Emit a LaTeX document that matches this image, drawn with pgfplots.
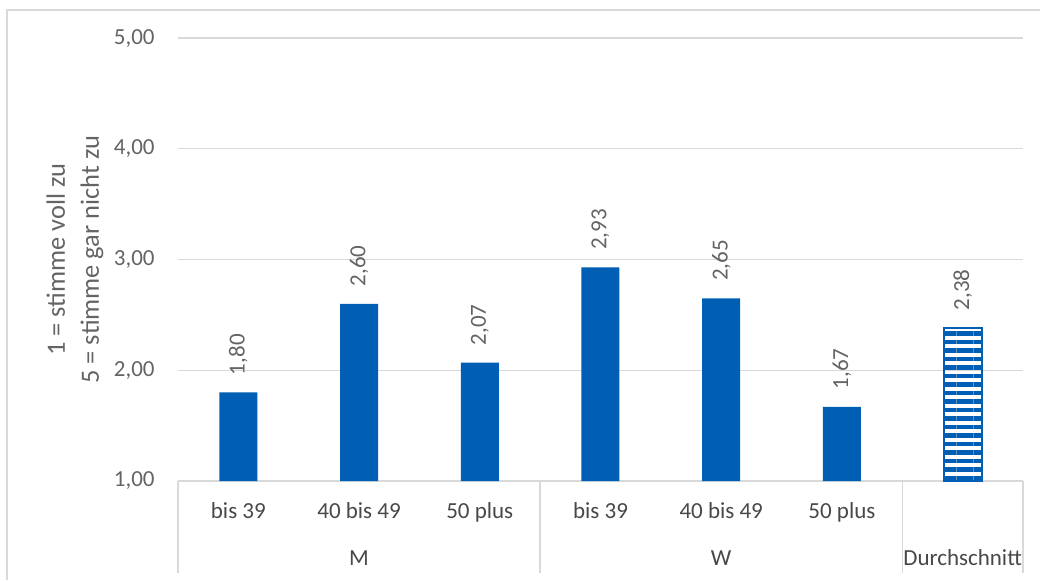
\documentclass[border=0pt]{standalone}
\usepackage{pgfplots}
\pgfplotsset{compat=1.18}
\usepackage{fontspec}
\setmainfont{Carlito}
\usetikzlibrary{patterns.meta}

\definecolor{barblue}{RGB}{0,94,180}
\definecolor{gridgray}{RGB}{217,217,217}
\definecolor{textgray}{RGB}{100,100,100}
\definecolor{catgray}{RGB}{72,72,72}

\newcommand{\lblfont}{\fontsize{11.5}{14}\selectfont}

\begin{document}
\begin{tikzpicture}
\begin{axis}[
  at={(89pt,49.5pt)}, anchor=south west,
  scale only axis, width=422.5pt, height=221.5pt,
  xmin=-0.5, xmax=6.5, ymin=1, ymax=5,
  ytick={1,2,3,4,5},
  xtick={0,1,2,3,4,5,6},
  xticklabels={bis 39, 40 bis 49, 50 plus, bis 39, 40 bis 49, 50 plus, {}},
  ymajorgrids,
  grid style={gridgray, line width=0.7pt},
  axis line style={draw=none},
  major tick length=0pt,
  clip=false,
  /pgf/number format/use comma,
  /pgf/number format/fixed,
  /pgf/number format/fixed zerofill,
  /pgf/number format/precision=2,
  /pgf/number format/assume math mode=true,
  ticklabel style={font=\lblfont},
  yticklabel style={anchor=east, inner sep=0pt, xshift=-11.5pt, text=textgray},
  xticklabel style={anchor=base, inner sep=0pt, yshift=-18.5pt, text=catgray},
  ybar, bar width=19pt, bar shift=0pt,
  nodes near coords,
  nodes near coords style={font=\lblfont, text=textgray, rotate=90,
    anchor=west, inner ysep=0pt, inner xsep=8.5pt},
]
% age groups, men and women
\addplot[fill=barblue, draw=none]
  coordinates {(0,1.80) (1,2.60) (2,2.07) (3,2.93) (4,2.65) (5,1.67)};
% overall average, striped
\addplot[draw=barblue, line width=1pt,
  pattern={Lines[angle=0, distance=4.25pt, line width=2.2pt]},
  pattern color=barblue]
  coordinates {(6,2.38)};

% group separators below the category axis
\draw[gridgray, line width=0.7pt] (axis cs:-0.5,1) -- ([yshift=-46pt]axis cs:-0.5,1);
\draw[gridgray, line width=0.7pt] (axis cs:2.5,1) -- ([yshift=-46pt]axis cs:2.5,1);
\draw[gridgray, line width=0.7pt] (axis cs:5.5,1) -- ([yshift=-46pt]axis cs:5.5,1);
\draw[gridgray, line width=0.7pt] (axis cs:6.5,1) -- ([yshift=-46pt]axis cs:6.5,1);

% group labels
\node[anchor=base, font=\lblfont, text=catgray, inner sep=0pt] at ([yshift=-42pt]axis cs:1,1) {M};
\node[anchor=base, font=\lblfont, text=catgray, inner sep=0pt] at ([yshift=-42pt]axis cs:4,1) {W};
\node[anchor=base, font=\lblfont, text=catgray, inner sep=0pt] at ([yshift=-42pt]axis cs:6,1) {Durchschnitt};

% axis title
\node[rotate=90, align=center, font=\fontsize{13.2}{17}\selectfont, text=textgray]
  at ([xshift=-51.5pt]axis description cs:0,0.5)
  {1 = stimme voll zu\\5 = stimme gar nicht zu};
\end{axis}

% chart area frame
\draw[gridgray, line width=0.75pt] (3.5pt,0) -- (3.5pt,285pt) -- (520pt,285pt);

\pgfresetboundingbox
\useasboundingbox (0,0) rectangle (520pt,290pt);
\end{tikzpicture}
\end{document}
